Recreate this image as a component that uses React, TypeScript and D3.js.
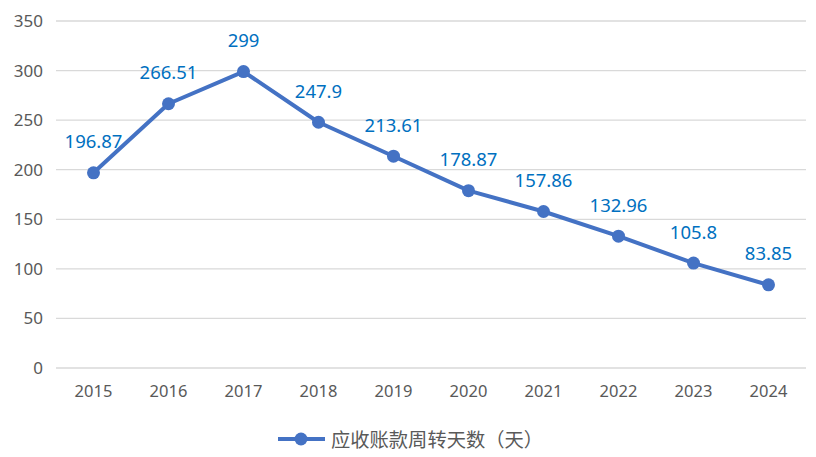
import React from "react";
import * as d3 from "d3";

const years = ["2015","2016","2017","2018","2019","2020","2021","2022","2023","2024"];
const values = [196.87, 266.51, 299, 247.9, 213.61, 178.87, 157.86, 132.96, 105.8, 83.85];
const yTicks = [0, 50, 100, 150, 200, 250, 300, 350];
const seriesName = "应收账款周转天数（天）";

export default function App() {
  const W = 816, H = 457;
  const left = 56, right = 806, top = 21, bottom = 368;
  const x = d3.scalePoint<string>().domain(years).range([left, right]).padding(0.5);
  const y = d3.scaleLinear().domain([0, 350]).range([bottom, top]);
  const line = d3.line<number>().x((_, i) => x(years[i])!).y(d => y(d));
  const font = "'Noto Sans', 'Noto Sans CJK SC', sans-serif";
  return (
    <svg width={W} height={H} style={{ position: "absolute", left: 0, top: 0, background: "#fff" }} fontFamily={font}>
      {yTicks.map(t => (
        <g key={t}>
          <line x1={left} x2={right} y1={y(t)} y2={y(t)} stroke="#d9d9d9" strokeWidth={1.3} />
          <text x={43} y={y(t)} dy="0.35em" textAnchor="end" fontSize={17} fill="#595959">{t}</text>
        </g>
      ))}
      {years.map(yr => (
        <text key={yr} x={x(yr)} y={391} dy="0.35em" textAnchor="middle" fontSize={16.5} fill="#595959">{yr}</text>
      ))}
      <path d={line(values)!} fill="none" stroke="#4472c4" strokeWidth={4} strokeLinejoin="round" />
      {values.map((v, i) => (
        <circle key={i} cx={x(years[i])} cy={y(v)} r={6.5} fill="#4472c4" />
      ))}
      {values.map((v, i) => (
        <text key={"l" + i} x={x(years[i])} y={y(v) - 31} dy="0.35em" textAnchor="middle" fontSize={18.5} fill="#0070c0">{String(v)}</text>
      ))}
      <g>
        <line x1={278} x2={325} y1={439} y2={439} stroke="#4472c4" strokeWidth={4} />
        <circle cx={301} cy={439} r={6.5} fill="#4472c4" />
        <text x={331} y={440} dy="0.35em" fontSize={19.3} fill="#595959">{seriesName}</text>
      </g>
    </svg>
  );
}
